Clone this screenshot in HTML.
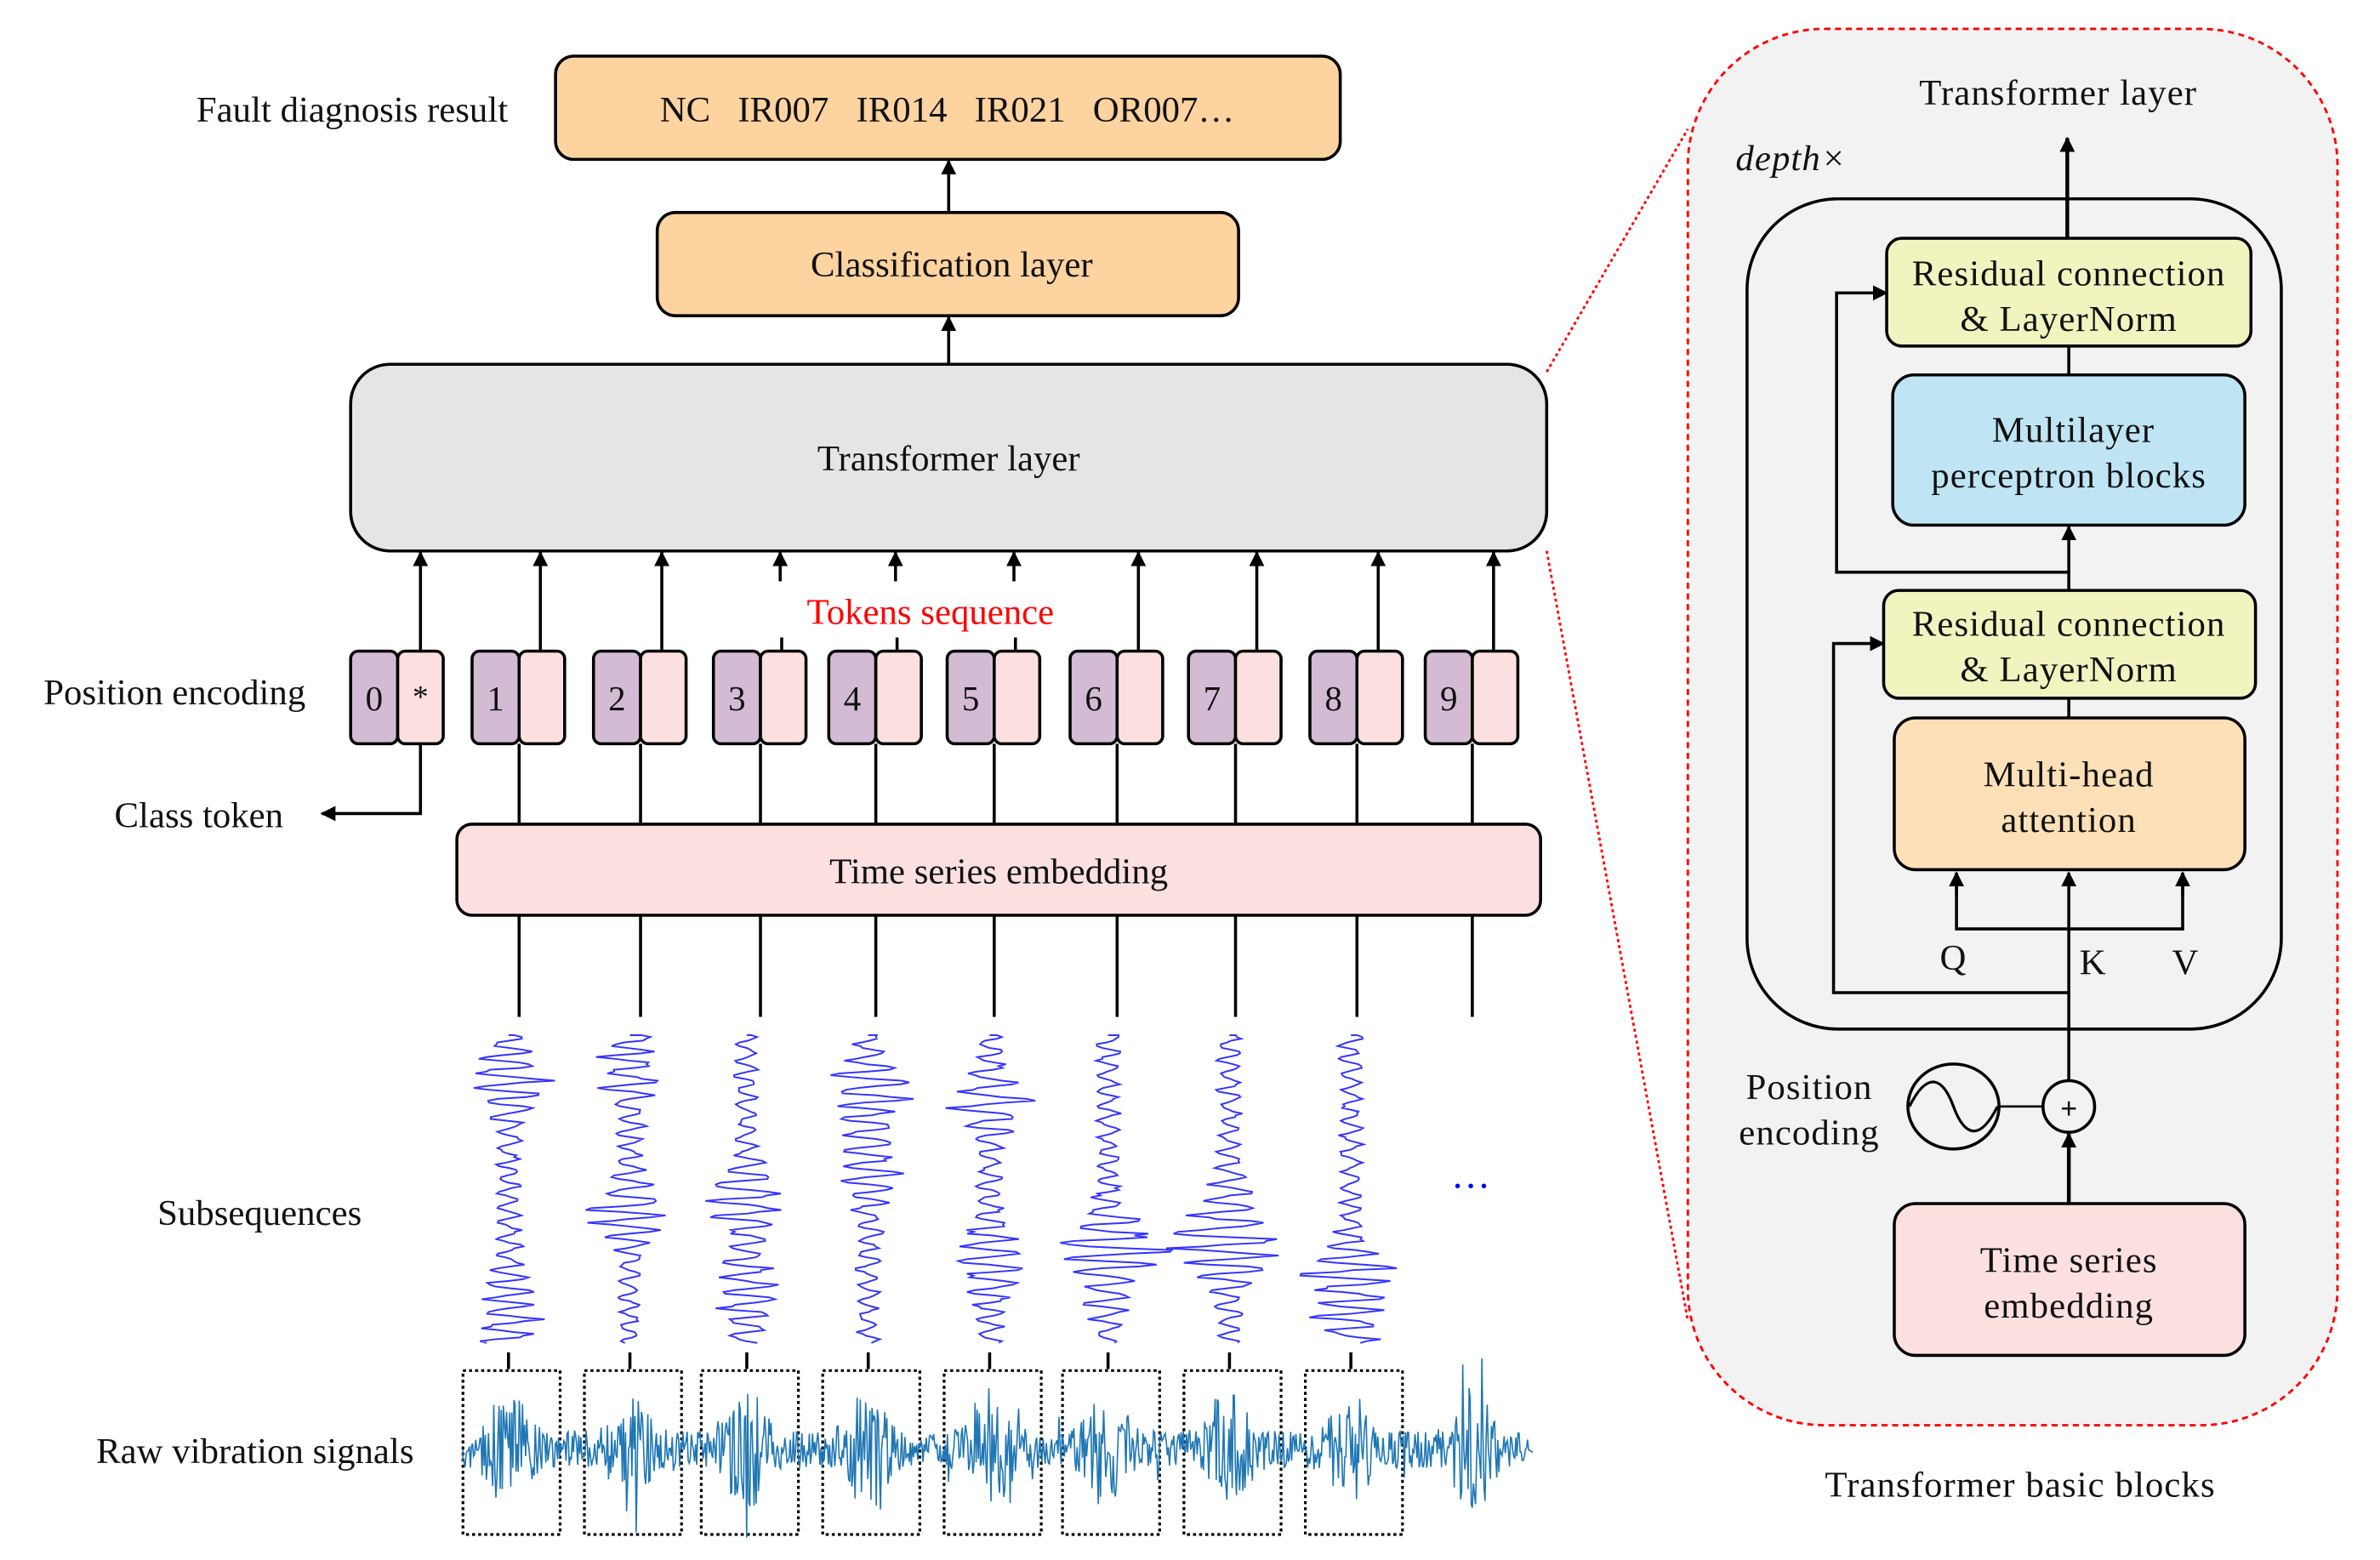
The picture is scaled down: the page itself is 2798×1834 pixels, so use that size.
<!DOCTYPE html>
<html><head><meta charset="utf-8"><style>
html,body{margin:0;padding:0;background:#fff;}
svg{display:block;}
text{font-family:"Liberation Serif",serif;fill:#111;}
.r{font-size:24px;letter-spacing:0.6px;}
</style></head><body>
<svg id="s" width="2798" height="1834" viewBox="0 0 1568 1027.8" xmlns="http://www.w3.org/2000/svg">
<defs>
<marker id="ar" markerWidth="10" markerHeight="10" refX="9" refY="5" orient="auto" markerUnits="userSpaceOnUse"><path d="M0,0 L10,5 L0,10 z" fill="#000"/></marker>
</defs>
<rect x="1112" y="19" width="428" height="920" rx="90" fill="#f2f2f2" stroke="#f00" stroke-width="1.6" stroke-dasharray="4,3"/>
<line x1="1019" y1="245" x2="1112" y2="85" stroke="#f00" stroke-width="1.6" stroke-dasharray="2,2"/>
<line x1="1019" y1="363" x2="1112" y2="870" stroke="#f00" stroke-width="1.6" stroke-dasharray="2,2"/>

<g font-size="24" text-anchor="middle">
<rect x="366" y="37" width="517" height="68" rx="12" fill="#fdd3a0" stroke="#000" stroke-width="2"/>
<text x="624" y="80" xml:space="preserve">NC   IR007   IR014   IR021   OR007…</text>
<text x="232" y="80">Fault diagnosis result</text>
<rect x="433" y="140" width="383" height="68" rx="12" fill="#fdd3a0" stroke="#000" stroke-width="2"/>
<text x="627" y="182">Classification layer</text>
<line x1="625" y1="140" x2="625" y2="106" stroke="#000" stroke-width="2" marker-end="url(#ar)"/>
<line x1="625" y1="240" x2="625" y2="209" stroke="#000" stroke-width="2" marker-end="url(#ar)"/>
<rect x="231" y="240" width="788" height="123" rx="26" fill="#e5e5e5" stroke="#000" stroke-width="2"/>
<text x="625" y="310">Transformer layer</text>
<text x="613" y="411" style="fill:#f00">Tokens sequence</text>
<text x="115" y="464">Position encoding</text>
<text x="131" y="545">Class token</text>
<rect x="301" y="543" width="714" height="60" rx="10" fill="#fce0e0" stroke="#000" stroke-width="2"/>
<text x="658" y="582">Time series embedding</text>
<text x="171" y="807">Subsequences</text>
<text x="168" y="964">Raw vibration signals</text>
<text x="969" y="790" font-size="26" style="fill:#00f">···</text>

<text class="r" x="1356" y="69">Transformer layer</text>
<text class="r" x="1180" y="112" font-style="italic">depth×</text>
<rect x="1151" y="131" width="352" height="547" rx="60" fill="none" stroke="#000" stroke-width="2"/>
<line x1="1362" y1="157" x2="1362" y2="91" stroke="#000" stroke-width="2.5" marker-end="url(#ar)"/>
<rect x="1243" y="157" width="240" height="71" rx="10" fill="#f2f4c0" stroke="#000" stroke-width="2"/>
<text class="r" x="1363" y="188">Residual connection</text><text class="r" x="1363" y="218">&amp; LayerNorm</text>
<line x1="1363" y1="228" x2="1363" y2="247" stroke="#000" stroke-width="2"/>
<rect x="1247" y="247" width="232" height="99" rx="14" fill="#bfe5f5" stroke="#000" stroke-width="2"/>
<text class="r" x="1366" y="291">Multilayer</text><text class="r" x="1363" y="321">perceptron blocks</text>
<line x1="1363" y1="389" x2="1363" y2="347" stroke="#000" stroke-width="2" marker-end="url(#ar)"/>
<polyline points="1363,377 1210,377 1210,193 1243,193" fill="none" stroke="#000" stroke-width="2" marker-end="url(#ar)"/>
<rect x="1241" y="389" width="245" height="71" rx="10" fill="#f2f4c0" stroke="#000" stroke-width="2"/>
<text class="r" x="1363" y="419">Residual connection</text><text class="r" x="1363" y="449">&amp; LayerNorm</text>
<line x1="1363" y1="460" x2="1363" y2="473" stroke="#000" stroke-width="2"/>
<rect x="1248" y="473" width="231" height="100" rx="14" fill="#fde0b8" stroke="#000" stroke-width="2"/>
<text class="r" x="1363" y="518">Multi-head</text><text class="r" x="1363" y="548">attention</text>
<line x1="1363" y1="712" x2="1363" y2="575" stroke="#000" stroke-width="2" marker-end="url(#ar)"/>
<polyline points="1289,575 1289,612 1438,612 1438,575" fill="none" stroke="#000" stroke-width="2"/>
<line x1="1289" y1="590" x2="1289" y2="575" stroke="#000" stroke-width="2" marker-end="url(#ar)"/>
<line x1="1438" y1="590" x2="1438" y2="575" stroke="#000" stroke-width="2" marker-end="url(#ar)"/>
<text class="r" x="1287" y="639">Q</text><text class="r" x="1379" y="642">K</text><text class="r" x="1440" y="642">V</text>
<polyline points="1363,654 1208,654 1208,424 1241,424" fill="none" stroke="#000" stroke-width="2" marker-end="url(#ar)"/>
<circle cx="1363" cy="729" r="17" fill="#f2f2f2" stroke="#000" stroke-width="2"/>
<text x="1363" y="737" font-size="20" font-weight="bold">+</text>
<ellipse cx="1287" cy="729" rx="30" ry="28" fill="none" stroke="#000" stroke-width="2"/>
<path d="M1258,729 C1270,705 1280,710 1287,729 C1294,748 1304,753 1316,729" fill="none" stroke="#000" stroke-width="1.8"/>
<line x1="1317" y1="729" x2="1346" y2="729" stroke="#000" stroke-width="1.5"/>
<text class="r" x="1192" y="724">Position</text><text class="r" x="1192" y="754">encoding</text>
<line x1="1363" y1="793" x2="1363" y2="747" stroke="#000" stroke-width="2.5" marker-end="url(#ar)"/>
<rect x="1248" y="793" width="231" height="100" rx="14" fill="#fce0e0" stroke="#000" stroke-width="2"/>
<text class="r" x="1363" y="838">Time series</text><text class="r" x="1363" y="868">embedding</text>
<text class="r" x="1331" y="986">Transformer basic blocks</text>
</g>
<g id="dyn"></g>
</svg>
<script>
var g=document.getElementById('dyn'),h='';
var pairs=[231,311,391,470,546,624,705,783,863,939];
var lbl=['0','1','2','3','4','5','6','7','8','9'];
var seed=7;function rnd(){seed=(seed*16807)%2147483647;return seed/2147483647;}
pairs.forEach(function(x,i){
 var pc=x+45;
 h+='<rect x="'+x+'" y="429" width="31" height="61" rx="5" fill="#d3bcd3" stroke="#000" stroke-width="2"/>';
 h+='<rect x="'+(x+31)+'" y="429" width="30" height="61" rx="5" fill="#fce0e0" stroke="#000" stroke-width="2"/>';
 h+='<text x="'+(x+15.5)+'" y="468" font-size="23" text-anchor="middle">'+lbl[i]+'</text>';
 if(i==0){h+='<text x="'+(x+46)+'" y="466" font-size="21" text-anchor="middle">*</text>';
  h+='<polyline points="277,490 277,536 212,536" fill="none" stroke="#000" stroke-width="2" marker-end="url(#ar)"/>';
  h+='<line x1="277" y1="429" x2="277" y2="364" stroke="#000" stroke-width="2" marker-end="url(#ar)"/>';}
 else{
  var bx=x+31;
  h+='<line x1="'+bx+'" y1="490" x2="'+bx+'" y2="543" stroke="#000" stroke-width="2"/>';
  h+='<line x1="'+bx+'" y1="603" x2="'+bx+'" y2="670" stroke="#000" stroke-width="2"/>';
  if(i>=3&&i<=5){h+='<line x1="'+pc+'" y1="429" x2="'+pc+'" y2="420" stroke="#000" stroke-width="2"/>';
   h+='<line x1="'+(pc-1)+'" y1="383" x2="'+(pc-1)+'" y2="364" stroke="#000" stroke-width="2" marker-end="url(#ar)"/>';}
  else h+='<line x1="'+pc+'" y1="429" x2="'+pc+'" y2="364" stroke="#000" stroke-width="2" marker-end="url(#ar)"/>';
 }
});
var cx=[335,415,492,572,652,730,810,890];
cx.forEach(function(c,k){
 var d='M'+c+',682',pk1=0.15+rnd()*0.7,pk2=rnd(),y,ph=0;
 for(y=682;y<=886;y+=1.2){
  var t=(y-682)/204;
  var env=9+24*Math.exp(-Math.pow((t-pk1)/0.1,2))+16*Math.exp(-Math.pow((t-pk2)/0.15,2));
  ph+=0.5+rnd()*0.5;
  var v=Math.sin(ph)*env*(0.4+0.6*rnd());
  d+=' L'+(c+v).toFixed(1)+','+y.toFixed(1);
 }
 h+='<path d="'+d+'" fill="none" stroke="#3333ff" stroke-width="1.1"/>';
 h+='<line x1="'+c+'" y1="891" x2="'+c+'" y2="902" stroke="#000" stroke-width="2"/>';
 h+='<rect x="'+(c-30)+'" y="903" width="64" height="108" fill="none" stroke="#000" stroke-width="1.8" stroke-dasharray="2,2"/>';
});
var d='M305,955';
for(var x=305;x<=1010;x+=0.7){
 var imp=0;cx.concat([970]).forEach(function(c){var dd=x-c;imp+=Math.exp(-Math.pow(dd/14,2));});
 var a=(12+30*imp)*(rnd()*2-1);
 if(rnd()<0.03)a*=1.8;
 d+=' L'+x.toFixed(1)+','+(955+Math.max(-60,Math.min(60,a))).toFixed(1);
}
h+='<path d="'+d+'" fill="none" stroke="#1f77b4" stroke-width="0.9"/>';
g.innerHTML=h;
</script>
</body></html>
